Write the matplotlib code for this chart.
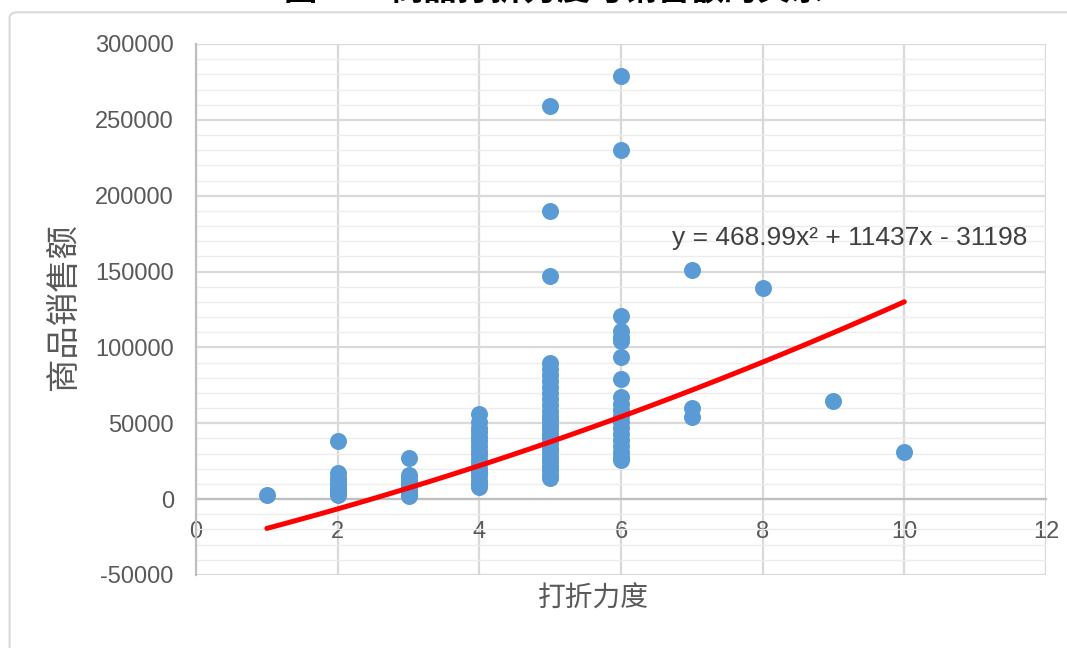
import numpy as np
import matplotlib
matplotlib.use('Agg')
import matplotlib.pyplot as plt
from matplotlib.patches import FancyBboxPatch
from matplotlib.ticker import MultipleLocator

plt.rcParams['font.family'] = ['Liberation Sans', 'Noto Sans CJK SC']
plt.rcParams['axes.unicode_minus'] = False

# sales amount, grouped by discount level
sales_by_discount = {
    1: [3000],
    2: [38000, 17000, 14000, 12000, 10000, 8000, 6000, 4000, 3000],
    3: [27000, 16000, 13000, 11000, 9000, 7000, 5000, 3000, 2000],
    4: [56000, 51000, 47000, 44000, 41000, 38000, 35000, 32000, 29000,
        26000, 23000, 20000, 18000, 15000, 12000, 10000, 8000],
    5: [259000, 190000, 147000, 90000, 86000, 82000, 78000, 74000, 70000,
        66000, 62000, 58000, 55000, 52000, 49000, 46000, 43000, 40000,
        37000, 34000, 31000, 28000, 25000, 22000, 19000, 16000, 14000],
    6: [279000, 230000, 121000, 111000, 107000, 104000, 94000, 79000,
        67000, 63000, 59000, 55000, 51000, 47000, 43000, 39000, 35000,
        31000, 28000, 26000],
    7: [151000, 60000, 54000],
    8: [139000],
    9: [65000],
    10: [31000],
}

# trendline coefficients as printed on the chart
trend_a, trend_b, trend_c = 468.99, 11437, -31198
trend_label = 'y = 468.99x² + 11437x - 31198'

x_label = '打折力度'
y_label = '商品销售额'
title = '商品打折力度与销售额的关系'

x = []
y = []
for k, vals in sales_by_discount.items():
    x += [k] * len(vals)
    y += vals

fig = plt.figure(figsize=(10.67, 6.48), dpi=100)
ax = fig.add_axes([0.1837, 0.1127, 0.7966, 0.8194])

# chart area frame (rounded, excel style)
frame = FancyBboxPatch((0.009, -0.05), 1.1, 1.031, boxstyle='round,pad=0,rounding_size=0.008',
                       transform=fig.transFigure, facecolor='white', edgecolor='#D9D9D9',
                       linewidth=1.5, zorder=-10)
fig.patches.append(frame)

# title, mostly cut off by the top edge as in the source
fig.text(310 / 1067, 1.013, '图2', fontsize=24, fontweight='bold', ha='center', va='center')
fig.text(607 / 1067, 1.013, title, fontsize=24, fontweight='bold', ha='center', va='center')

ax.set_xlim(0, 12)
ax.set_ylim(-50000, 300000)
ax.xaxis.set_major_locator(MultipleLocator(2))
ax.yaxis.set_major_locator(MultipleLocator(50000))
ax.yaxis.set_minor_locator(MultipleLocator(10000))

ax.grid(which='major', axis='both', color='#D9D9D9', linewidth=1.6, zorder=0)
ax.grid(which='minor', axis='y', color='#EDEDED', linewidth=1.0, zorder=0)
ax.set_axisbelow(True)

ax.scatter(x, y, s=150, color='#5B9BD5', linewidths=0, zorder=3)

xt = np.linspace(1, 10, 100)
ax.plot(xt, trend_a * xt ** 2 + trend_b * xt + trend_c, color='#FF0000', linewidth=3.6,
        solid_capstyle='round', zorder=4)

ax.text(6.72, 172000, trend_label, fontsize=19, color='#404040', va='center', ha='left')

ax.spines['bottom'].set_position(('data', 0))
ax.spines['bottom'].set_color('#BFBFBF')
ax.spines['bottom'].set_linewidth(1.6)
ax.spines['left'].set_color('#BFBFBF')
ax.spines['left'].set_linewidth(1.6)
for s in ['top', 'right']:
    ax.spines[s].set_visible(False)

ax.tick_params(axis='both', which='both', length=0, labelsize=17, labelcolor='#595959')
ax.tick_params(axis='x', pad=16)
ax.tick_params(axis='y', pad=16)

ax.set_xlabel(x_label, fontsize=20, color='#595959', va='center')
ax.xaxis.set_label_coords(0.468, -0.047)
ax.set_ylabel(y_label, fontsize=24, color='#595959')
ax.yaxis.set_label_coords(-0.137, 0.505)

plt.savefig('out.png', dpi=100)
plt.close()
